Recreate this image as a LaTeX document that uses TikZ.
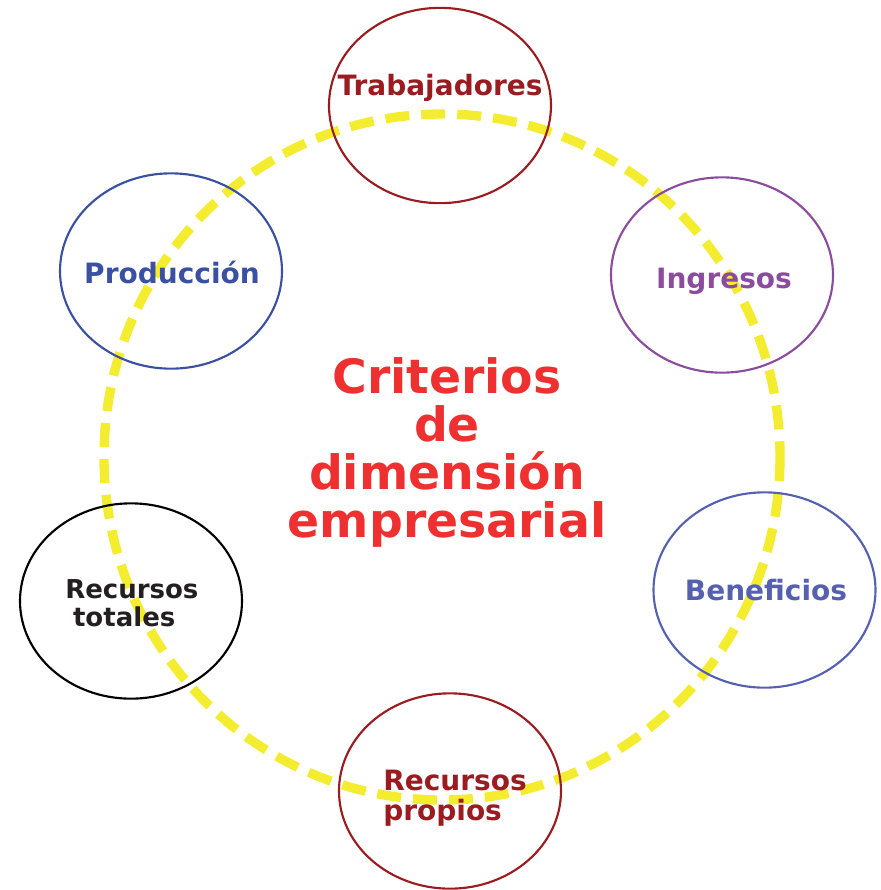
\documentclass[tikz,border=0pt]{standalone}
\usepackage{fontspec}
\setmainfont{DejaVu Sans}
\usetikzlibrary{shapes.geometric}
\definecolor{rojoosc}{HTML}{9A1C20}
\definecolor{morado}{HTML}{8B4C9E}
\definecolor{azulv}{HTML}{5561B0}
\definecolor{azul}{HTML}{3A50A2}
\definecolor{negro}{HTML}{231F20}
\definecolor{rojo}{HTML}{EE3130}
\definecolor{amarillo}{HTML}{F4EC2E}
\begin{document}
\begin{tikzpicture}[x=0.75pt,y=-0.75pt,crit/.style={shape=ellipse,draw,line width=1.6pt,minimum width=166.5pt,minimum height=146.5pt,inner sep=0pt},lab/.style={font=\bfseries\fontsize{21}{22}\selectfont,align=left,inner sep=0pt},labS/.style={lab,font=\bfseries\fontsize{19.5}{21}\selectfont}]
\def\rx{338};
\def\ry{343};

\useasboundingbox (0,0) rectangle (881,890);

%YELLOW RING
\coordinate (C) at (442,457);
\draw[amarillo,line width=7pt,dash pattern=on 18pt off 9pt] (C) ellipse ({\rx} and {\ry});

\node[rojo,font=\bfseries\fontsize{35.5}{36}\selectfont,align=center,inner sep=0pt] (T) at (447,452) {Criterios\\de\\dimensión\\empresarial};

\node[crit,rojoosc] (Tr) at (440,105.5) {};
\node[lab,rojoosc] (Trl) at (440,88) {Trabajadores};

\node[crit,morado] (In) at (722,275) {};
\node[lab,morado] (Inl) at (724,281) {Ingresos};

\node[crit,azulv] (Be) at (764.5,590) {};
\node[lab,azulv] (Bel) at (766,590) {Beneficios};

\node[crit,rojoosc] (Rp) at (450,791) {};
\node[lab,rojoosc,anchor=north west] (Rpl) at (383,770) {Recursos\\propios};

\node[crit,negro,draw=black] (Rt) at (131,601) {};
\node[labS,negro,anchor=north west] (Rtl) at (65,579) {Recursos\\\hspace*{0.3em}totales};

\node[crit,azul] (Pr) at (171,271) {};
\node[lab,azul] (Prl) at (172,272) {Producción};
\end{tikzpicture}
\end{document}
